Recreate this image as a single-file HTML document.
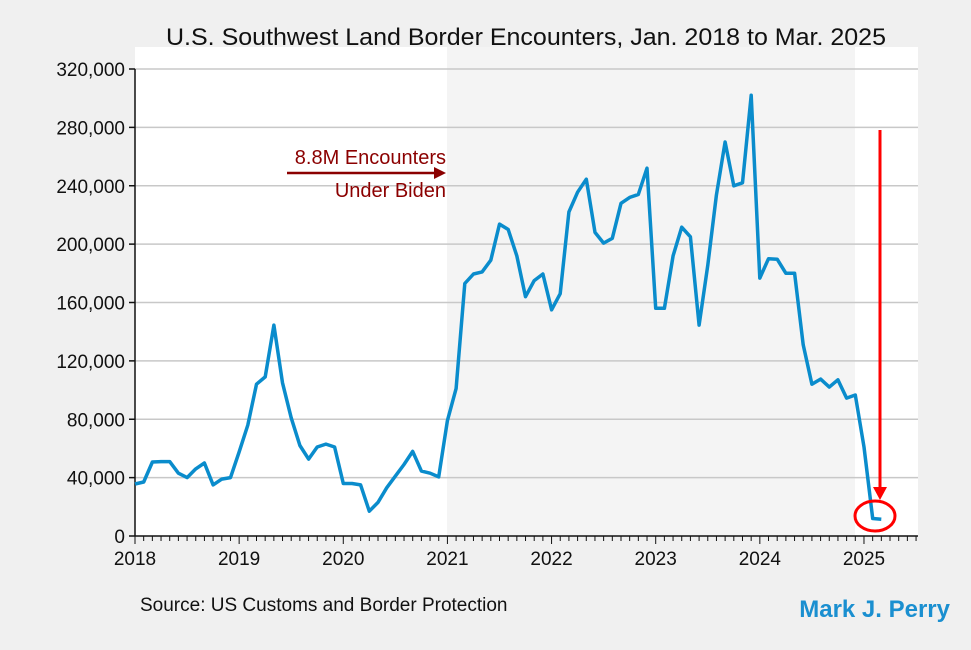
<!DOCTYPE html>
<html><head><meta charset="utf-8"><style>
body{margin:0;background:#f0f0f0;font-family:"Liberation Sans",sans-serif}
svg{display:block}
</style></head><body>
<svg id="chart" width="971" height="650">
<rect x="0" y="0" width="971" height="650" fill="#f0f0f0"/>
<rect x="135" y="47" width="312" height="489" fill="#ffffff"/>
<rect x="447" y="47" width="408" height="489" fill="#f4f4f4"/>
<rect x="855" y="47" width="63" height="489" fill="#ffffff"/>
<g id="grid"></g>
<g id="axes"></g>
<path id="line" fill="none" stroke="#0a8ccc" stroke-width="3.5" stroke-linejoin="round"/>
<text x="166" y="45" textLength="720" lengthAdjust="spacingAndGlyphs" font-size="24" fill="#111">U.S. Southwest Land Border Encounters, Jan. 2018 to Mar. 2025</text>
<text x="446" y="164" text-anchor="end" font-size="20" fill="#8b0000">8.8M Encounters</text>
<line x1="287" y1="173" x2="436" y2="173" stroke="#8b0000" stroke-width="2.5"/>
<polygon points="434,167 446,173 434,179" fill="#8b0000"/>
<text x="446" y="197" text-anchor="end" font-size="20" fill="#8b0000">Under Biden</text>
<line x1="880" y1="130" x2="880" y2="490" stroke="#ff0000" stroke-width="3"/>
<polygon points="873,487 887,487 880,500" fill="#ff0000"/>
<ellipse cx="875" cy="516" rx="20" ry="15" fill="none" stroke="#ff0000" stroke-width="3"/>
<text x="140" y="611" font-size="19" fill="#111">Source: US Customs and Border Protection</text>
<text x="950" y="617" text-anchor="end" font-size="24" font-weight="bold" fill="#1a8fd0">Mark J. Perry</text>
</svg>
<script>
const years=[2018,2019,2020,2021,2022,2023,2024,2025];
const yTicks=[0,40000,80000,120000,160000,200000,240000,280000,320000];
const yTickLabels=["0","40,000","80,000","120,000","160,000","200,000","240,000","280,000","320,000"];
const encounters=[
35.6,37,50.7,51,51,43,40,46,50,35,39,40,
57.5,76,104,109,144.5,105,81,62,52.7,61,63,61,
36,36,35,17,23,33,41,49,58,44.5,43,40.5,
79,101,173,179.5,181,189,213.7,210,192,164,175,179.5,
155,166,222,235.6,244.5,208,200.7,204,228,232,234,252,
156,156,192,211.6,205,144.5,185.6,233.6,270,240,242,302,
176.7,190,189.7,180,180,131,104,107.5,102,107,94.5,96.6,
61,12,11.5].map(v=>v*1000);
const X0=135,YEARPX=104.14,Y0=536,YMAX=320000,YPX=467;
const xMonth=i=>X0+i*YEARPX/12;
const yVal=v=>Y0-v/YMAX*YPX;
const NS="http://www.w3.org/2000/svg";
const grid=document.getElementById('grid'),axes=document.getElementById('axes');
function mk(tag,attrs,parent){const e=document.createElementNS(NS,tag);for(const k in attrs)e.setAttribute(k,attrs[k]);parent.appendChild(e);return e;}
yTicks.forEach((t,i)=>{
  const y=yVal(t);
  if(t>0){const g=mk('line',{x1:X0,x2:918,y1:y,y2:y,stroke:'#c8c8c8','stroke-width':1.5},grid);
  
  }
  const tk=mk('line',{x1:X0-6,x2:X0,y1:y,y2:y,stroke:'#111','stroke-width':1.5},axes);
  
  
  const lb=mk('text',{x:X0-10,y:y+7,'text-anchor':'end','font-size':19,fill:'#111'},axes);
  lb.textContent=yTickLabels[i];
  
  
});
const ya=mk('line',{x1:X0,x2:X0,y1:yVal(YMAX),y2:Y0,stroke:'#111','stroke-width':1.5},axes);


const xa=mk('line',{x1:X0,x2:918,y1:Y0,y2:Y0,stroke:'#111','stroke-width':1.5},axes);


for(let m=0;m<=90;m++){
  const x=xMonth(m);if(x>918)break;
  const major=m%12===0;
  const t=mk('line',{x1:x,x2:x,y1:Y0,y2:Y0+(major?8:5),stroke:'#111','stroke-width':1},axes);
  
  
}
years.forEach((yr,i)=>{
  const lb=mk('text',{x:xMonth(i*12),y:Y0+29,'text-anchor':'middle','font-size':19,fill:'#111'},axes);
  lb.textContent=yr;
  
  
});
document.getElementById('line').setAttribute('d',encounters.map((v,i)=>(i?'L':'M')+xMonth(i).toFixed(1)+','+yVal(v).toFixed(1)).join(''));
</script>
</body></html>
